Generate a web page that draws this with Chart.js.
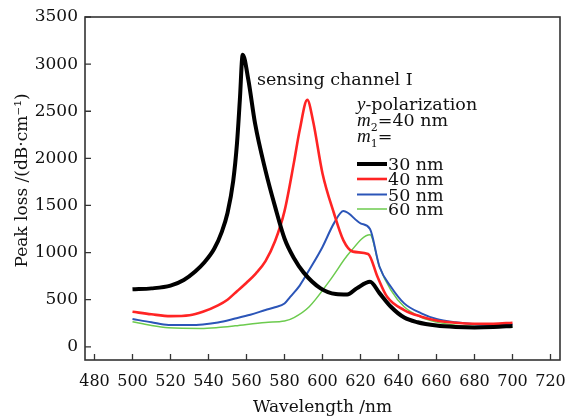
<!DOCTYPE html>
<html>
<head>
<meta charset="utf-8">
<script src="https://cdn.jsdelivr.net/npm/chart.js@4.4.1/dist/chart.umd.min.js"></script>
<style>
html,body{margin:0;padding:0;background:#fff;}
#wrap{width:566px;height:419px;}
</style>
</head>
<body>
<div id="wrap"><canvas id="c" width="566" height="419"></canvas></div>
<script>
// ---- data ----
const seriesNames = ['30 nm', '40 nm', '50 nm', '60 nm'];

const wl30 = [500,510,520,527,533,538,543,547,550,553,555,556.5,558,561,564.5,570,575,580,585,590,599,607,613,618,625,630,636,643,650,660,670,680,690,700];
const loss30 = [610,620,650,710,800,900,1040,1220,1420,1760,2160,2620,3100,2830,2370,1870,1490,1150,940,790,620,560,555,620,690,570,425,310,260,225,210,205,210,222];

const wl40 = [500,510,520,530,537,545,550,555,560,565,570,575,580,585,588,592,595,600,606,611,616,624,629,634,643,652,660,670,680,690,700];
const loss40 = [372,345,326,335,372,440,500,590,680,780,910,1120,1440,1960,2300,2620,2400,1840,1420,1130,1010,985,740,530,390,320,280,255,245,245,255];

const wl50 = [500,510,519,530,537,545,554,562,570,575,580,583,588,593,600,606,611,620,625,630,636,643,652,660,670,680,690,700];
const loss50 = [295,260,232,232,238,258,300,340,390,420,460,530,650,815,1060,1310,1440,1310,1250,850,637,461,355,295,260,240,235,238];

const wl60 = [500,510,519,536,545,554,570,580,585,593,604,614,625,630,636,643,652,660,670,680,690,700];
const loss60 = [266,225,202,195,205,223,259,273,310,425,708,992,1190,850,602,425,312,262,230,215,210,210];

const xTickValues = [480,500,520,540,560,580,600,620,640,660,680,700,720];
const yTickValues = [0,500,1000,1500,2000,2500,3000,3500];

// ---- styling ----
const colors = ['#000000', '#ff2424', '#2b55b8', '#6ccb4e'];
const widths = [4, 2.6, 2, 1.5];
const SERIF = "'DejaVu Serif', 'Liberation Serif', serif";

function pts(xs, ys){ return xs.map((x,i)=>({x:x, y:ys[i]})); }

const datasets = [
  pts(wl30, loss30), pts(wl40, loss40), pts(wl50, loss50), pts(wl60, loss60)
].map((d,i)=>({
  label: seriesNames[i],
  data: d,
  borderColor: colors[i],
  backgroundColor: colors[i],
  borderWidth: widths[i],
  pointRadius: 0,
  fill: false,
  cubicInterpolationMode: 'monotone'
}));

const framePlugin = {
  id: 'frame',
  afterDatasetsDraw(chart){
    const ctx = chart.ctx;
    const a = chart.chartArea;
    const xs = chart.scales.x, ys = chart.scales.y;
    ctx.save();
    ctx.strokeStyle = '#333';
    ctx.lineWidth = 1.6;
    ctx.strokeRect(a.left, a.top, a.right - a.left, a.bottom - a.top);
    ctx.lineWidth = 1.3;
    ctx.beginPath();
    ys.ticks.forEach(t=>{
      const y = ys.getPixelForValue(t.value);
      ctx.moveTo(a.left, y); ctx.lineTo(a.left + 6, y);
    });
    xs.ticks.forEach(t=>{
      const x = xs.getPixelForValue(t.value);
      ctx.moveTo(x, a.bottom); ctx.lineTo(x, a.bottom - 6);
    });
    ctx.stroke();

    // annotation texts
    ctx.fillStyle = '#111';
    ctx.textBaseline = 'alphabetic';
    ctx.textAlign = 'left';
    const reg = "17.5px " + SERIF;
    const ital2 = "italic 19px 'Liberation Serif', serif";
    const small = "11px " + SERIF;

    ctx.font = reg;
    ctx.fillText('sensing channel I', 257, 85);

    const lx = 357;
    ctx.font = ital2; ctx.fillText('y', lx, 110);
    let w = ctx.measureText('y').width;
    ctx.font = reg; ctx.fillText('-polarization', lx + w, 110);
    ctx.font = ital2; ctx.fillText('m', lx, 126);
    w = ctx.measureText('m').width;
    ctx.font = small; ctx.fillText('2', lx + w, 131);
    let w2 = ctx.measureText('2').width;
    ctx.font = reg; ctx.fillText('=40 nm', lx + w + w2, 126);
    ctx.font = ital2; ctx.fillText('m', lx, 142);
    ctx.font = small; ctx.fillText('1', lx + w, 147);
    ctx.font = reg; ctx.fillText('=', lx + w + w2, 142);

    // legend
    const ly = [164, 179, 194.5, 209];
    chart.data.datasets.forEach((ds,i)=>{
      ctx.strokeStyle = ds.borderColor;
      ctx.lineWidth = ds.borderWidth;
      ctx.beginPath();
      ctx.moveTo(lx, ly[i]); ctx.lineTo(lx + 30, ly[i]);
      ctx.stroke();
      ctx.fillStyle = '#111';
      ctx.font = reg;
      ctx.fillText(ds.label, lx + 31, ly[i] + 6);
    });
    ctx.restore();
  }
};

new Chart(document.getElementById('c'), {
  type: 'line',
  data: { datasets: datasets },
  plugins: [framePlugin],
  options: {
    responsive: false,
    animation: false,
    devicePixelRatio: 1,
    layout: { padding: { top: 17, right: 6, left: 0, bottom: 0 } },
    plugins: { legend: { display: false }, tooltip: { enabled: false } },
    scales: {
      x: {
        type: 'linear',
        min: 475, max: 725,
        afterBuildTicks(s){ s.ticks = xTickValues.map(v => ({ value: v })); },
        afterFit(s){ s.height = 59; s.paddingLeft = 0; s.paddingRight = 0; },
        ticks: { color: '#111', padding: 12, maxRotation: 0, autoSkip: false,
                 callback: v => String(v),
                 font: { family: SERIF, size: 16 } },
        grid: { display: false, drawTicks: false },
        border: { display: false },
        title: { display: true, text: 'Wavelength /nm', color: '#111',
                 font: { family: SERIF, size: 17 }, padding: { top: 0, bottom: 1 } }
      },
      y: {
        type: 'linear',
        min: -140, max: 3500,
        afterBuildTicks(s){ s.ticks = yTickValues.map(v => ({ value: v })); },
        afterFit(s){ s.width = 85; s.paddingTop = 0; s.paddingBottom = 0; },
        ticks: { color: '#111', padding: 7, autoSkip: false,
                 callback: v => String(v),
                 font: { family: SERIF, size: 17 } },
        grid: { display: false, drawTicks: false },
        border: { display: false },
        title: { display: true, text: '   Peak loss /(dB\u00b7cm\u207b\u00b9)', color: '#111',
                 font: { family: SERIF, size: 17 }, padding: { top: 12, bottom: 0 } }
      }
    }
  }
});
</script>
</body>
</html>
